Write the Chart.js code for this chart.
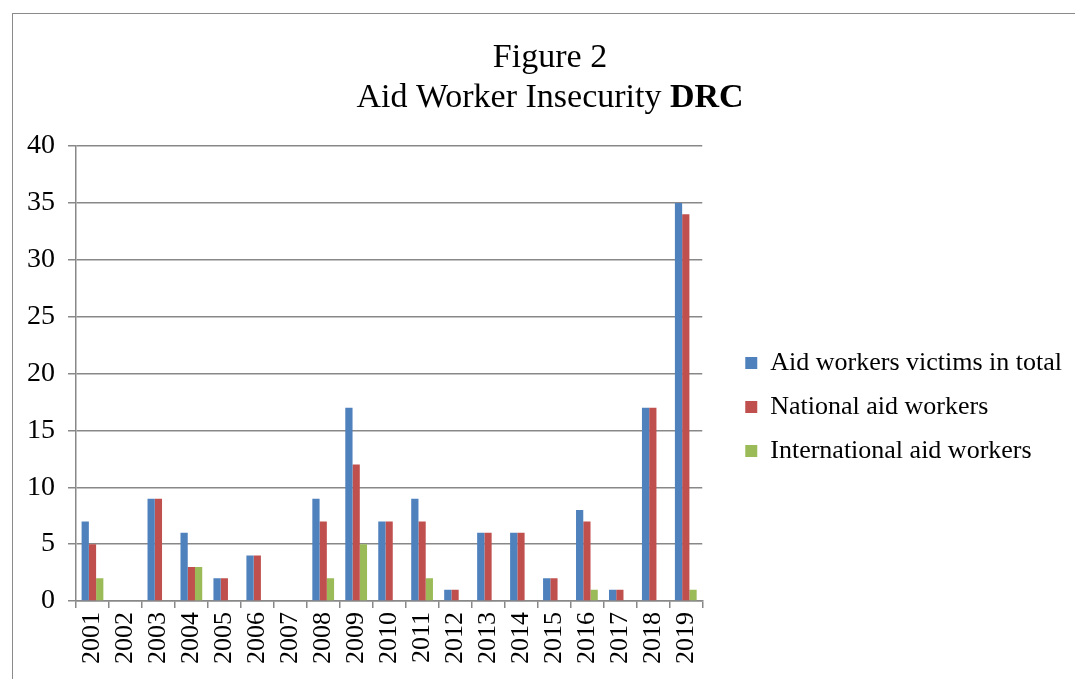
<!DOCTYPE html>
<html lang="en">
<head>
<meta charset="utf-8">
<script src="https://cdn.jsdelivr.net/npm/chart.js@4.4.0/dist/chart.umd.min.js"></script>
<style>
  html, body { margin: 0; padding: 0; background: #fff; }
  #wrap { position: relative; width: 1075px; height: 679px; overflow: hidden; }
  #frame {
    position: absolute; left: 12px; top: 13px; width: 1100px; height: 700px;
    border-left: 1.5px solid #8a8a8a; border-top: 1.5px solid #8a8a8a;
  }
  canvas { position: absolute; left: 0; top: 0; }
</style>
</head>
<body>
<div id="wrap">
  <div id="frame"></div>
  <canvas id="chart" width="1075" height="679"></canvas>
</div>
<script>
  // ---------------------------------------------------------------
  // Data
  // ---------------------------------------------------------------
  const years = ["2001", "2002", "2003", "2004", "2005", "2006", "2007", "2008", "2009", "2010",
                 "2011", "2012", "2013", "2014", "2015", "2016", "2017", "2018", "2019"];
  const totalVictims  = [7, 0, 9, 6, 2, 4, 0, 9, 17, 7, 9, 1, 6, 6, 2, 8, 1, 17, 35];
  const nationalAid   = [5, 0, 9, 3, 2, 4, 0, 7, 12, 7, 7, 1, 6, 6, 2, 7, 1, 17, 34];
  const internatAid   = [2, 0, 0, 3, 0, 0, 0, 2, 5, 0, 2, 0, 0, 0, 0, 1, 0, 0, 1];
  const seriesNames   = ["Aid workers victims in total", "National aid workers", "International aid workers"];
  const titleLine1    = "Figure 2";
  const titleLine2    = "Aid Worker Insecurity ";
  const titleBold     = "DRC";
  const yMin = 0, yMax = 40, yStep = 5;

  const FONT = "'Liberation Serif', 'Times New Roman', serif";
  const GRID = "#888888";

  // two-line title with a bold word, drawn on the canvas
  const titlePlugin = {
    id: "twoLineTitle",
    afterDraw(chart) {
      const ctx = chart.ctx;
      const cx = 550;
      ctx.save();
      ctx.fillStyle = "#000";
      ctx.textBaseline = "alphabetic";
      ctx.textAlign = "center";
      ctx.font = "34px " + FONT;
      ctx.fillText(titleLine1, cx, 67);

      ctx.font = "34px " + FONT;
      const w1 = ctx.measureText(titleLine2).width;
      ctx.font = "bold 34px " + FONT;
      const w2 = ctx.measureText(titleBold).width;
      let x = cx - (w1 + w2) / 2;
      ctx.textAlign = "left";
      ctx.font = "34px " + FONT;
      ctx.fillText(titleLine2, x, 107);
      ctx.font = "bold 34px " + FONT;
      ctx.fillText(titleBold, x + w1, 107);
      ctx.restore();
    }
  };

  const colors = ["#4F81BD", "#C0504D", "#9BBB59"];
  const values = [totalVictims, nationalAid, internatAid];

  const datasets = seriesNames.map((name, i) => ({
    label: name,
    data: values[i],
    backgroundColor: colors[i],
    borderWidth: 0,
    barPercentage: 1,
    categoryPercentage: 0.66
  }));

  new Chart(document.getElementById("chart").getContext("2d"), {
    type: "bar",
    data: { labels: years, datasets },
    plugins: [titlePlugin],
    options: {
      responsive: false,
      animation: false,
      devicePixelRatio: 1,
      layout: { padding: { top: 146, left: 14, right: 3, bottom: 11 } },
      plugins: {
        title: { display: false },
        tooltip: { enabled: false },
        legend: {
          position: "right",
          maxWidth: 420,
          labels: {
            boxWidth: 12,
            boxHeight: 12,
            padding: 18,
            color: "#000",
            font: { family: FONT, size: 26 }
          }
        }
      },
      scales: {
        x: {
          grid: { display: true, drawOnChartArea: false, drawTicks: true, tickLength: 7, offset: true, color: GRID, lineWidth: 1.5 },
          border: { display: true, color: GRID, width: 1.5 },
          ticks: { color: "#000", font: { family: FONT, size: 26 }, minRotation: 90, maxRotation: 90, padding: 4, autoSkip: false }
        },
        y: {
          min: yMin,
          max: yMax,
          ticks: { stepSize: yStep, color: "#000", font: { family: FONT, size: 28 }, padding: 13 },
          grid: { color: GRID, lineWidth: 1.5, tickLength: 8 },
          border: { display: true, color: GRID, width: 1.5 }
        },
        spacer: {
          type: "linear",
          position: "right",
          display: true,
          grid: { display: false },
          ticks: { display: false },
          border: { display: false },
          afterFit: (s) => { s.width = 25; }
        }
      }
    }
  });
</script>
</body>
</html>
